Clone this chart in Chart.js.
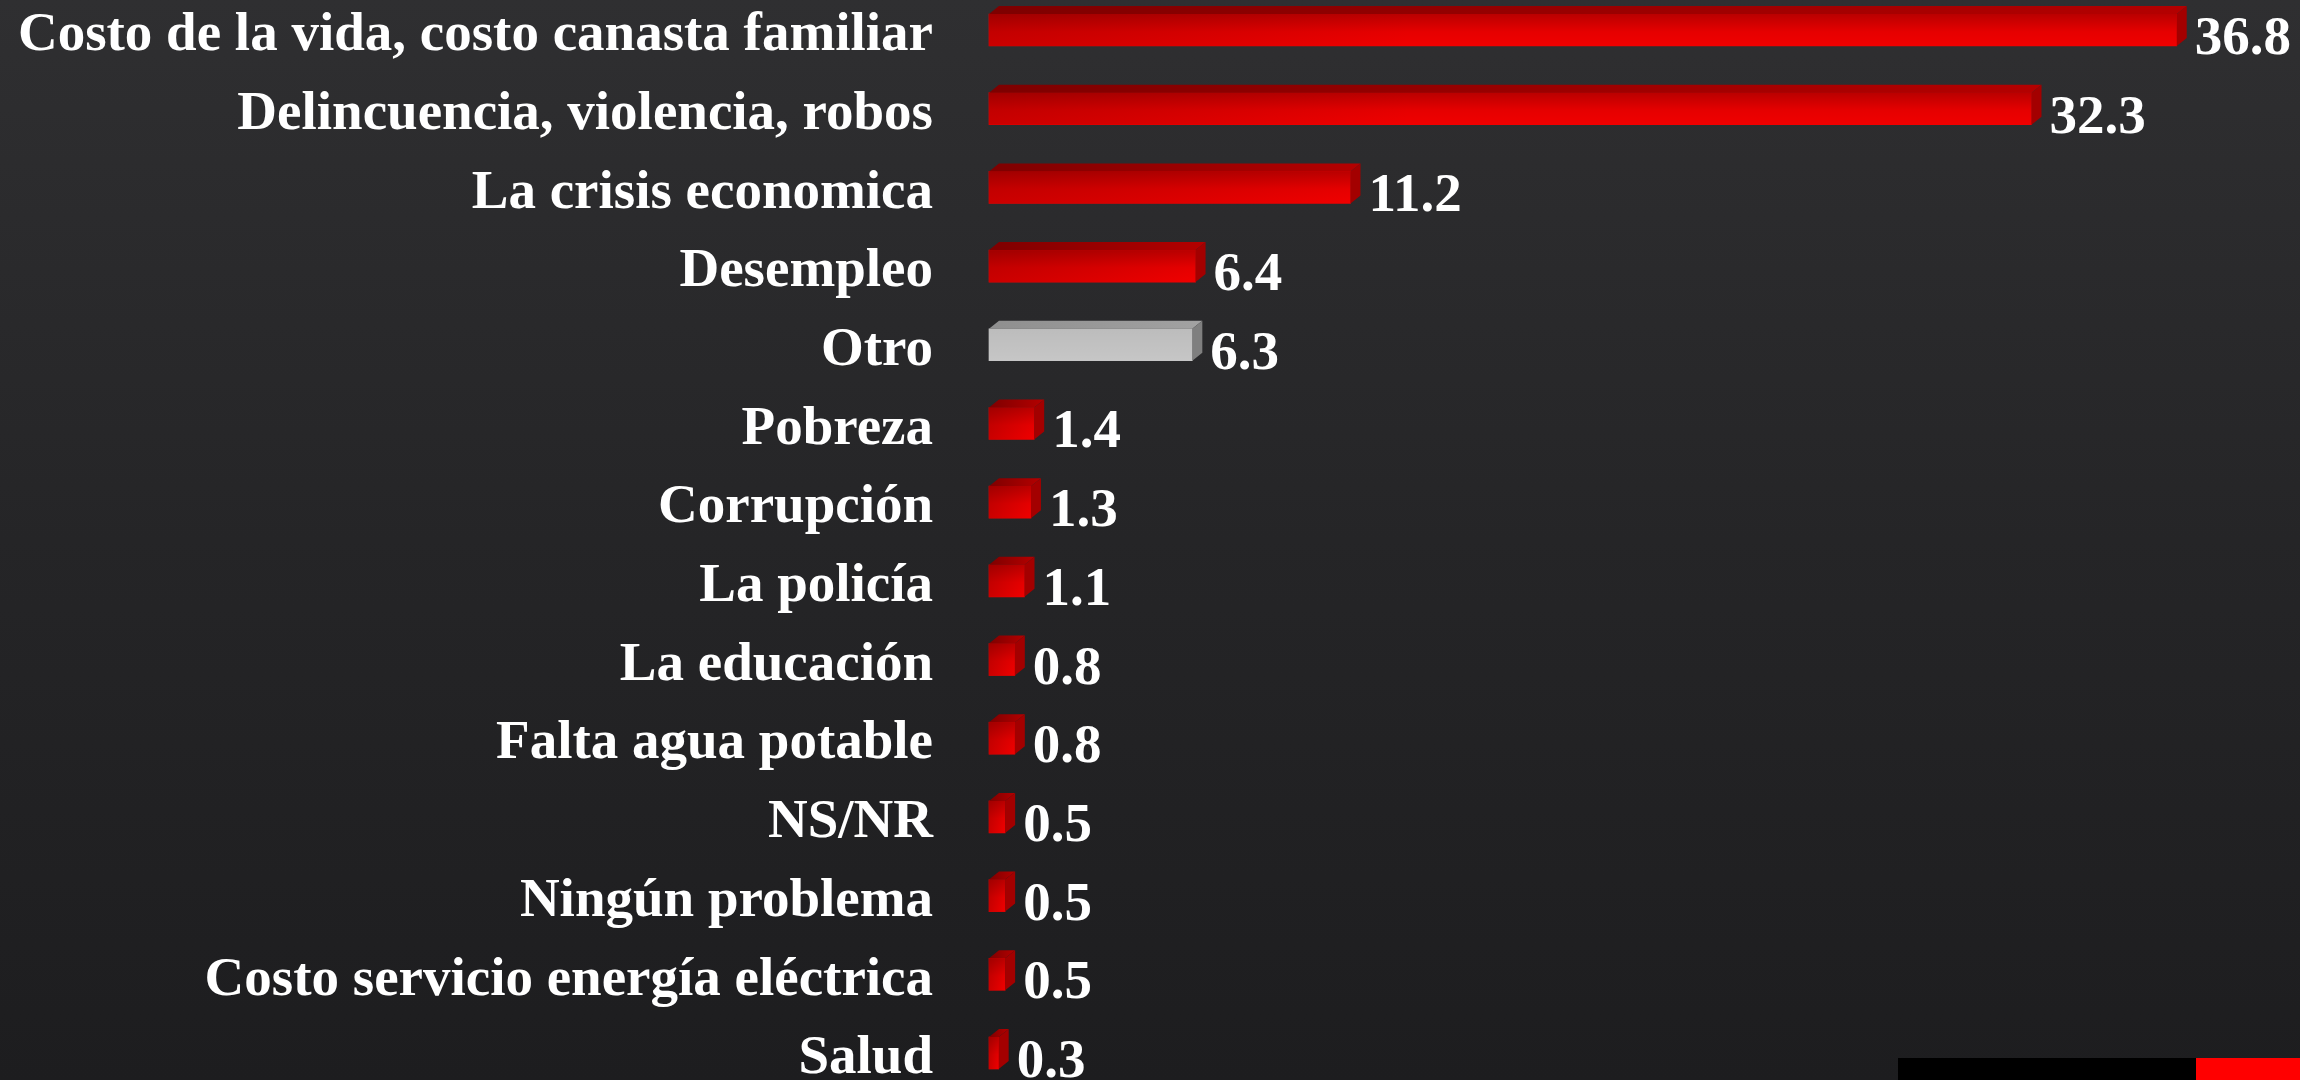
<!DOCTYPE html>
<html>
<head>
<meta charset="utf-8">
<script src="https://cdn.jsdelivr.net/npm/chart.js@4.4.1/dist/chart.umd.min.js"></script>
<style>
  html, body { margin: 0; padding: 0; overflow: hidden; }
  body { width: 2300px; height: 1080px; background: linear-gradient(180deg, #2f2f31 0%, #252527 50%, #1d1d1f 100%); position: relative; }
  #wrap { position: absolute; left: 0; top: 0; width: 2300px; height: 1080px; }
  .deco-black { position: absolute; left: 1898px; top: 1058px; width: 298px; height: 22px; background: #000; }
  .deco-red { position: absolute; left: 2196px; top: 1058px; width: 104px; height: 22px; background: #ff0000; }
</style>
</head>
<body>
<div id="wrap"><canvas id="myChart"></canvas></div>
<div class="deco-black"></div>
<div class="deco-red"></div>
<script>
(function () {
  'use strict';

  // datos del grafico
  const categories = [
    "Costo de la vida, costo canasta familiar",
    "Delincuencia, violencia, robos",
    "La crisis economica",
    "Desempleo",
    "Otro",
    "Pobreza",
    "Corrupción",
    "La policía",
    "La educación",
    "Falta agua potable",
    "NS/NR",
    "Ningún problema",
    "Costo servicio energía eléctrica",
    "Salud"
  ];
  const values = [36.8, 32.3, 11.2, 6.4, 6.3, 1.4, 1.3, 1.1, 0.8, 0.8, 0.5, 0.5, 0.5, 0.3];
  const grayCategory = "Otro";

  const DX = 10, DY = 8;
  const FONT = '"Liberation Serif", "Times New Roman", serif';

  function isGray(i) { return categories[i] === grayCategory; }

  // caras 3D + etiquetas de valor
  const bar3d = {
    id: 'bar3d',
    afterDatasetsDraw(chart) {
      const ctx = chart.ctx;
      const meta = chart.getDatasetMeta(0);
      meta.data.forEach(function (bar, i) {
        const x0 = bar.base, x1 = bar.x;
        const top = bar.y - bar.height / 2, bottom = bar.y + bar.height / 2;
        const gray = isGray(i);
        ctx.save();
        // sombreado del frente
        let g = ctx.createLinearGradient(0, top, 0, bottom);
        if (gray) {
          g.addColorStop(0, 'rgba(0,0,0,0.05)');
          g.addColorStop(1, 'rgba(0,0,0,0)');
        } else {
          g.addColorStop(0, 'rgba(60,0,0,0.30)');
          g.addColorStop(0.55, 'rgba(60,0,0,0.06)');
          g.addColorStop(1, 'rgba(60,0,0,0)');
        }
        ctx.fillStyle = g;
        ctx.fillRect(x0, top, x1 - x0, bottom - top);
        if (!gray) {
          const w = Math.min(x1 - x0, 420);
          let gh = ctx.createLinearGradient(x0, 0, x0 + w, 0);
          gh.addColorStop(0, 'rgba(70,0,0,0.22)');
          gh.addColorStop(1, 'rgba(70,0,0,0)');
          ctx.fillStyle = gh;
          ctx.fillRect(x0, top, w, bottom - top);
        }
        // cara superior
        let gt = ctx.createLinearGradient(x0, 0, x1 + DX, 0);
        if (gray) {
          gt.addColorStop(0, '#8f8f8f');
          gt.addColorStop(1, '#a2a2a2');
        } else {
          gt.addColorStop(0, '#7e0000');
          gt.addColorStop(1, '#b40000');
        }
        ctx.fillStyle = gt;
        ctx.beginPath();
        ctx.moveTo(x0, top);
        ctx.lineTo(x0 + DX, top - DY);
        ctx.lineTo(x1 + DX, top - DY);
        ctx.lineTo(x1, top);
        ctx.closePath();
        ctx.fill();
        // cara lateral
        ctx.fillStyle = gray ? '#7f7f7f' : '#a30000';
        ctx.beginPath();
        ctx.moveTo(x1, top);
        ctx.lineTo(x1 + DX, top - DY);
        ctx.lineTo(x1 + DX, bottom - DY);
        ctx.lineTo(x1, bottom);
        ctx.closePath();
        ctx.fill();
        // valor
        ctx.fillStyle = '#ffffff';
        ctx.font = 'bold 55px ' + FONT;
        ctx.textAlign = 'left';
        ctx.textBaseline = 'alphabetic';
        ctx.fillText(values[i].toFixed(1), x1 + DX + 8, bar.y + 24);
        ctx.restore();
      });
    }
  };

  const ctx = document.getElementById('myChart').getContext('2d');
  const chart = new Chart(ctx, {
    type: 'bar',
    data: {
      labels: categories,
      datasets: [{
        data: values,
        backgroundColor: function (c) { return isGray(c.dataIndex) ? '#c6c6c6' : '#f00000'; },
        borderWidth: 0,
        barThickness: 32,
        clip: false
      }]
    },
    options: {
      indexAxis: 'y',
      responsive: true,
      maintainAspectRatio: false,
      animation: false,
      layout: { padding: { top: 30, bottom: 27, left: 0, right: 20 } },
      plugins: { legend: { display: false }, tooltip: { enabled: false } },
      scales: {
        x: { display: false, min: 0, max: 40 },
        y: {
          offset: false,
          grid: { display: false, drawTicks: false },
          border: { display: false },
          afterFit: function (scale) {
            scale.width = 989;
            scale.paddingTop = 0;
            scale.paddingBottom = 0;
          },
          ticks: {
            color: '#ffffff',
            padding: 56,
            labelOffset: 6,
            autoSkip: false,
            font: { family: FONT, size: 55, weight: 'bold' }
          }
        }
      }
    },
    plugins: [bar3d]
  });
})();
</script>
</body>
</html>
